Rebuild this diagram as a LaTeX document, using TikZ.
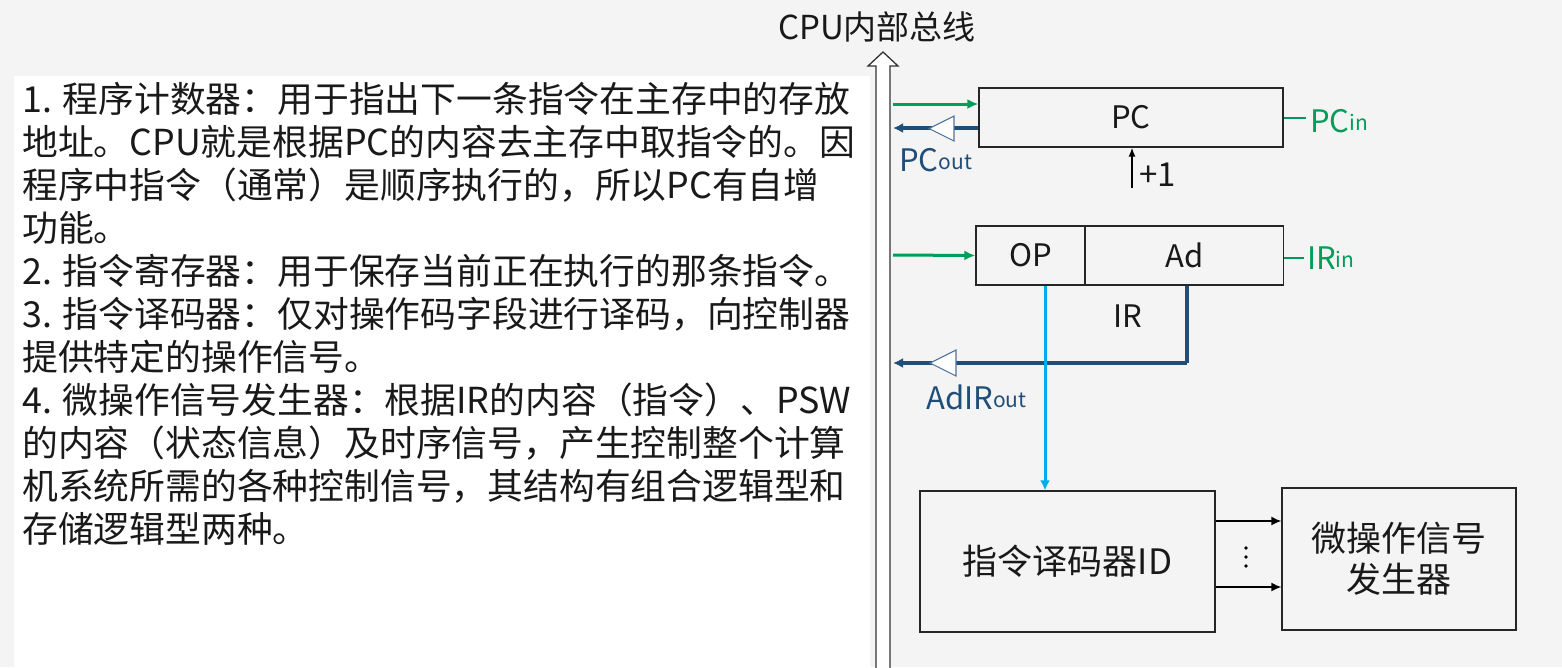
\documentclass[tikz,border=0pt]{standalone}
\usepackage{fontspec}
\setmainfont{Noto Sans CJK SC}
\usetikzlibrary{arrows.meta}
\definecolor{bgc}{RGB}{244,244,244}
\definecolor{grn}{RGB}{0,158,88}
\definecolor{dblue}{RGB}{31,78,121}
\definecolor{lblue}{RGB}{0,172,236}
\definecolor{bufc}{RGB}{80,115,155}
\definecolor{txt}{RGB}{25,25,25}
\newcommand{\fs}[1]{\fontsize{#1}{#1}\selectfont}
\tikzset{
  reg/.style={draw=black!85, line width=1.3pt, fill=none, inner sep=0pt, font=\fs{31}, text=txt},
  para/.style={anchor=base west, font=\fs{35.8}, text=txt, inner sep=0pt},
  garrow/.style={draw=grn, line width=3pt, -{Latex[length=11pt,width=10pt]}},
  barrow/.style={draw=dblue, line width=3.4pt, -{Latex[length=10pt,width=10pt]}},
  bline/.style={draw=dblue, line width=3.4pt},
  larrow/.style={draw=lblue, line width=3pt, -{Latex[length=10pt,width=10pt]}},
  karrow/.style={draw=black, line width=1.6pt, -{Latex[length=10pt,width=9pt]}},
  buf/.style={draw=bufc, line width=1.1pt, fill=white},
  tick/.style={draw=grn!80!teal, line width=1.4pt},
  glabel/.style={text=grn, font=\fs{31}, inner sep=0pt, anchor=west},
  blabel/.style={text=dblue, font=\fs{31}, inner sep=0pt, anchor=west}
}
\begin{document}
\begin{tikzpicture}[x=1pt,y=-1pt]
\fill[bgc] (0,0) rectangle (1562,667);
\useasboundingbox (0,0) rectangle (1562,667);
\fill[white] (14,76) rectangle (870,667);

% left text
\node[para] (l1) at (22,112) {1. 程序计数器：用于指出下一条指令在主存中的存放};
\node[para] (l2) at (22,155) {地址。CPU就是根据PC的内容去主存中取指令的。因};
\node[para] (l3) at (22,198) {程序中指令（通常）是顺序执行的，所以PC有自增};
\node[para] (l4) at (22,241) {功能。};
\node[para] (l5) at (22,284) {2. 指令寄存器：用于保存当前正在执行的那条指令。};
\node[para] (l6) at (22,327) {3. 指令译码器：仅对操作码字段进行译码，向控制器};
\node[para] (l7) at (22,370) {提供特定的操作信号。};
\node[para] (l8) at (22,413) {4. 微操作信号发生器：根据IR的内容（指令）、PSW};
\node[para] (l9) at (22,456) {的内容（状态信息）及时序信号，产生控制整个计算};
\node[para] (l10) at (22,499) {机系统所需的各种控制信号，其结构有组合逻辑型和};
\node[para] (l11) at (22,542) {存储逻辑型两种。};

% bus
\node[font=\fs{33}, text=txt, inner sep=0pt] (title) at (877,27) {CPU内部总线};
\draw[draw=black!80, line width=1.3pt, fill=white]
  (876,668) -- (876,66) -- (868,66) -- (883,52) -- (898,66) -- (890,66) -- (890,668);

% registers
\node[reg, minimum width=304pt, minimum height=59pt] (pc) at (1131,117.5) {PC};
\node[reg, minimum width=109pt, minimum height=59pt] (op) at (1030.5,255.5) {OP};
\node[reg, minimum width=198pt, minimum height=59pt] (ad) at (1184.5,255.5) {Ad};
\node[font=\fs{31}, text=txt, inner sep=0pt] (ir) at (1128,316) {IR};
\node[reg, minimum width=295pt, minimum height=141pt, font=\fs{35}] (dec) at (1067.5,561.5) {指令译码器ID};
\node[reg, minimum width=234pt, minimum height=142pt, font=\fontsize{35}{41}\selectfont, align=center] (mop) at (1399,559) {微操作信号\\发生器};

% bus coordinates
\coordinate (b1) at (893,104);
\coordinate (b2) at (893,128);
\coordinate (b3) at (893,255);
\coordinate (b4) at (893,363);
\coordinate (adc) at (1187,363);

% PC in / out
\draw[garrow] (b1) -- (b1 -| pc.west);
\draw[barrow] (b2 -| pc.west) -- (b2);
\draw[buf] (954,116) -- (954,141) -- (929,128.5) -- cycle;
\node[blabel] (pcout) at (899,160) {PC\raisebox{2pt}{\fs{21}out}};

% +1
\coordinate (p1) at (1132,188);
\draw[draw=black, line width=1.4pt, -{Latex[length=9pt,width=7pt]}] (p1) -- (p1 |- pc.south);
\node[font=\fs{33}, text=txt, inner sep=0pt, anchor=west] (plus) at (1139,175) {+1};

% PCin, IRin
\coordinate (t1) at (1306,118);
\draw[tick] (t1 -| pc.east) -- (t1);
\node[glabel] (pcin) at (1310,121) {PC\raisebox{2pt}{\fs{21}in}};
\coordinate (t2) at (1304,258);
\draw[tick] (t2 -| ad.east) -- (t2);
\node[glabel] (irin) at (1307,258) {IR\raisebox{2pt}{\fs{21}in}};

% IR in
\draw[garrow] (b3) -- (op.west);

% Ad out
\draw[bline] (ad.south -| adc) -- (adc);
\draw[barrow] (adc) -- (b4);
\draw[buf] (956,350) -- (956,376) -- (930,363) -- cycle;
\node[blabel] (adout) at (926,397) {AdIR\raisebox{2pt}{\fs{21}out}};

% OP -> decoder
\coordinate (oc) at (1045,300);
\draw[larrow] (oc |- op.south) -- (oc |- dec.north);

% decoder -> micro op
\coordinate (d1) at (1250,521);
\coordinate (d2) at (1250,587);
\draw[karrow] (d1 -| dec.east) -- (d1 -| mop.west);
\draw[karrow] (d2 -| dec.east) -- (d2 -| mop.west);
\fill[black] (1246,548) circle (1.9pt) (1246,557) circle (1.9pt) (1246,566) circle (1.9pt);
\end{tikzpicture}
\end{document}
